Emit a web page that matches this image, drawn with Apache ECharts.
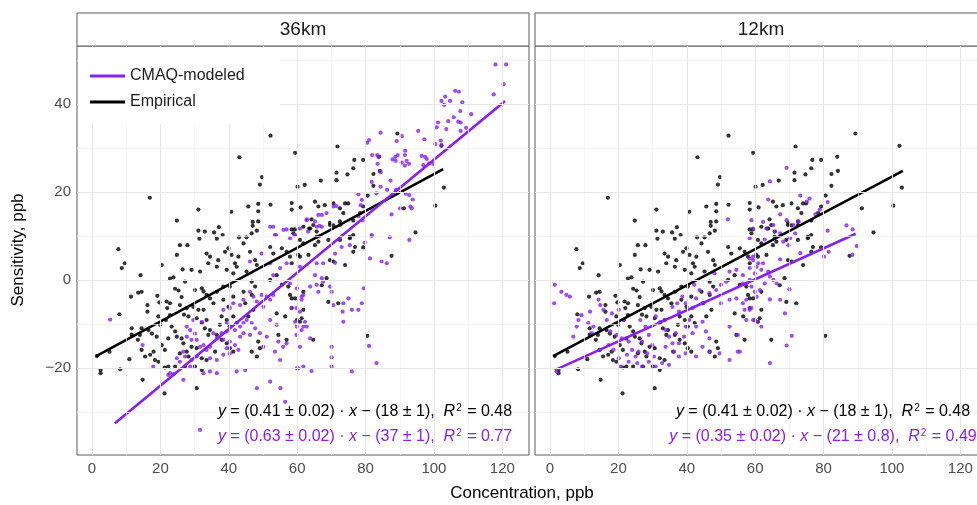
<!DOCTYPE html>
<html>
<head>
<meta charset="utf-8">
<script src="https://cdn.jsdelivr.net/npm/echarts@6/dist/echarts.min.js"></script>
<style>html,body{margin:0;padding:0;background:#fff;}#chart{width:977px;height:505px;}</style>
</head>
<body>
<div id="chart"></div>
<script>
const panels = ['36km', '12km'];
const xTickValues = [0, 20, 40, 60, 80, 100, 120];
const xTickLabels = ['0', '20', '40', '60', '80', '100', '120'];
const yTickValues = [-20, 0, 20, 40];
const yTickLabels = ['\u221220', '0', '20', '40'];
const legendNames = ['CMAQ-modeled', 'Empirical'];

// Empirical (black) points: same observations in both panels
const empirical = [
[52.2,32.8],[43.1,27.9],[59.4,28.9],[49.7,23.4],[49.1,21.7],[60.1,21.2],[62.2,21.6],[16.9,18.7],[24.8,13.5],[31.1,16.0],
[40.7,15.5],[45.7,16.7],[48.6,17.3],[48.6,15.6],[52.2,17.1],[58.4,17.5],[58.4,16.0],[61.0,16.5],[47.0,13.2],[48.6,13.3],
[47.0,12.3],[31.1,11.2],[33.0,11.0],[35.7,10.8],[37.1,12.0],[38.2,10.2],[48.2,11.2],[46.7,10.6],[43.0,9.7],[45.2,9.7],
[59.3,11.5],[63.5,11.7],[31.4,9.4],[36.5,9.4],
[89.3,33.3],[71.8,30.3],[102.2,30.5],[66.9,22.6],[71.5,24.4],[71.5,22.7],[74.7,24.0],[76.4,25.4],[76.7,27.3],[79.3,27.3],
[84.0,28.0],[84.2,24.8],[82.3,24.1],[82.3,21.4],[80.6,19.2],[102.9,21.0],[100.4,16.9],[94.6,10.8],[91.2,16.3],
[65.2,17.8],[66.2,16.7],[68.1,17.0],[70.6,17.4],[72.5,16.3],[73.5,15.2],[74.0,17.4],[74.9,17.4],[79.3,16.7],[78.4,15.2],
[76.4,13.5],[64.2,13.8],[64.7,12.5],[65.7,11.0],[69.6,13.0],[70.6,12.4],[72.5,13.3],[75.4,9.8],[58.4,11.5],
[7.7,7.0],[9.6,3.8],[8.7,2.7],[8.0,-7.8],[5.1,-16.3],[2.5,-20.5],[2.5,-21.2],[1.4,-17.3],[8.2,-20.3],[11.6,-11.0],
[11.6,-12.4],[10.9,-18.0],[11.4,-3.8],[13.5,-2.9],[14.5,-2.7],[14.2,1.1],[16.2,-5.7],[16.2,-7.2],[13.4,-13.6],[14.0,-12.5],
[14.5,-11.0],[16.5,-11.4],[17.5,-12.2],[14.8,-22.7],[15.5,-17.4],[14.5,-15.9],[17.0,-17.0],[18.0,-16.3],[20.4,3.4],[19.1,-3.6],
[19.7,-5.1],[21.8,-4.9],[22.0,-6.4],[22.8,-5.3],[19.4,-8.3],[19.9,-10.2],[21.6,-9.1],[22.8,-8.0],[18.9,-12.9],[20.4,-14.8],
[21.3,-15.9],[22.3,-13.3],[18.4,-18.2],[19.4,-18.6],[21.3,-19.9],[22.3,-19.7],[21.2,-25.8],[22.8,0.3],[23.8,0.6],[24.3,-2.0],
[25.3,-2.4],[24.8,5.7],[25.7,7.9],[27.9,7.9],[26.5,2.4],[27.2,-0.4],[26.2,-3.9],[25.7,-5.7],[27.7,-6.4],[26.9,-7.9],
[28.2,-8.3],[23.3,-10.6],[24.3,-11.7],[24.8,-12.9],[26.2,-13.3],[26.7,-14.4],[25.7,-16.7],[27.7,-16.3],[28.2,-17.4],[24.3,-19.7],
[27.2,-19.7],[30.6,-24.6],[29.1,2.3],[30.1,-2.3],[31.6,1.9],[32.1,-1.9],[32.6,-2.6],[33.5,6.0],[34.5,5.3],[34.0,3.8],
[36.9,4.5],[36.5,3.0],[33.5,-3.4],[34.5,-4.2],[35.5,-5.3],[36.5,-2.7],[29.6,-6.1],[31.1,-6.8],[32.6,-6.8],[30.6,-8.7],
[32.1,-9.8],[33.5,-9.1],[33.0,-11.0],[34.5,-11.4],[34.0,-12.5],[36.5,-12.5],[37.4,-10.2],[29.1,-15.2],[30.6,-15.5],[32.1,-17.8],
[33.5,-18.2],[36.0,-16.3],[30.1,-19.7],[32.1,-20.5],[38.9,6.4],[39.9,7.2],[40.8,5.7],[39.4,2.3],[41.3,1.5],[41.8,3.8],
[42.8,5.3],[42.3,3.0],[38.4,-1.5],[40.3,-1.5],[41.3,-3.8],[38.4,-4.5],[39.9,-6.1],[37.9,-8.3],[39.4,-9.1],[41.3,-8.3],
[42.3,-9.8],[40.3,-10.6],[37.9,-13.6],[39.4,-14.4],[40.3,-15.5],[41.3,-16.3],[44.3,8.3],[46.2,6.4],[47.7,4.5],[48.2,3.4],
[45.2,1.9],[46.7,-0.4],[47.7,-1.5],[44.3,-2.7],[46.7,-3.4],[44.8,-5.3],[47.2,-6.8],[45.7,-8.3],[48.6,-14.0],[49.1,-15.5],
[46.7,-16.3],[48.2,-17.4],[52.1,7.5],[53.0,6.0],[55.5,7.2],[56.9,6.4],[57.9,5.3],[58.4,3.8],[60.8,5.3],[61.8,8.3],
[52.1,0.0],[54.0,1.1],[55.5,-1.1],[57.4,-1.5],[57.9,-3.4],[59.4,-4.2],[61.8,-2.7],[54.0,-7.6],[56.5,-8.3],[59.9,-9.1],
[60.8,-9.5],[61.8,-6.8],[54.5,-12.5],[56.9,-13.6],
[87.6,5.5],[79.3,7.4],[76.4,6.4],[76.9,7.5],[74.0,3.4],[70.6,4.2],[69.6,4.5],[68.6,0.4],[67.2,-1.2],[69.1,-5.0],
[72.0,-5.3],[64.7,-13.6],[61.3,-8.7],[58.4,-6.4],[58.4,-4.2],[80.5,-12.7],[60.3,5.7],[63.3,5.7],[65.2,7.9],[66.2,8.7],
[69.6,12.5],[72.5,12.5],[76.4,10.2],[75.4,9.5],[60.8,9.1],[61.8,12.1],[63.8,11.7],[65.7,9.8],[58.9,10.6],[69.1,9.1],[72.5,9.1]
];

// CMAQ-modeled points, 36km panel
const cmaq36 = [
[53.0,12.1],[53.8,10.2],[56.9,11.5],[59.4,10.2],[62.8,13.8],
[118.0,49.0],[121.1,49.0],[120.4,44.5],[117.5,42.2],[106.2,43.0],[107.3,42.8],[103.3,41.7],[102.2,40.7],[103.0,39.8],[104.7,40.7],
[108.3,40.4],[107.7,38.4],[110.9,37.7],[105.8,37.0],[101.2,35.8],[104.2,36.1],[107.1,36.0],[107.8,35.8],[100.8,34.7],[103.6,34.3],
[107.8,33.9],[109.4,34.6],[102.0,31.7],[100.4,30.9],[102.2,30.7],[95.4,33.9],[97.2,32.0],[84.4,33.5],[81.0,31.8],[80.5,31.2],
[90.6,32.7],[89.1,31.6],[91.6,29.4],[91.5,28.4],[92.0,27.1],[90.6,26.7],[81.9,28.4],[83.4,28.4],[83.7,28.0],[83.5,26.4],
[84.4,24.5],[87.9,27.4],[88.7,28.0],[89.4,28.4],[88.8,27.1],[92.7,26.4],[91.5,26.0],[96.4,28.2],[97.4,28.0],[97.9,27.5],
[96.9,26.1],[98.6,26.5],[99.8,26.4],[81.8,22.3],[83.2,19.7],[84.4,21.2],[86.3,20.5],[87.3,22.6],[88.9,20.5],[91.8,19.6],
[92.8,19.3],[93.8,18.3],[93.1,16.7],[87.6,14.9],[90.1,16.3],[93.5,16.3],[77.9,19.5],[78.9,18.2],[79.1,13.6],[81.8,10.0],
[87.1,9.7],[70.6,16.7],[71.5,16.8],[68.6,15.2],[67.2,14.8],[66.2,14.8],[62.8,13.6],[65.2,13.3],[65.7,12.1],[66.5,12.3],
[67.2,12.1],[63.2,11.0],[77.9,14.5],[78.6,17.0],[59.2,10.2],[66.5,10.0],
[5.3,-9.0],[14.8,-14.8],[17.9,-19.7],[22.8,-21.2],[22.3,-21.6],[23.8,-21.4],[26.7,-22.7],[28.7,-19.7],[29.1,-18.2],[30.6,-17.4],
[24.8,-17.8],[25.7,-18.6],[27.2,-17.4],[26.7,-16.3],[27.7,-10.6],[28.7,-11.4],[30.1,-12.2],[27.7,-12.9],[29.1,-13.6],[30.6,-13.6],
[31.6,-15.2],[32.6,-14.8],[33.5,-15.9],[34.5,-15.2],[35.5,-12.1],[36.5,-13.3],[37.9,-12.1],[38.4,-13.6],[39.4,-11.7],[34.5,-17.8],
[36.5,-18.2],[38.4,-17.0],[40.3,-16.7],[32.6,-21.2],[34.5,-20.8],[36.5,-21.2],[42.3,-20.8],[44.8,-20.5],[48.2,-24.6],[52.1,-23.1],
[55.1,-24.6],[56.5,-27.7],[29.6,-9.1],[32.1,-9.5],[38.4,-6.8],[40.3,-6.4],[41.3,-5.3],[43.3,-5.7],[44.3,-4.5],[39.4,-9.8],
[40.3,-10.6],[41.8,-11.4],[43.3,-10.6],[44.3,-9.8],[44.3,-12.1],[43.3,-12.9],[40.3,-14.0],[41.8,-14.8],[42.8,-15.9],[39.4,-15.5],
[46.2,-2.7],[47.2,-3.8],[48.2,-4.9],[49.6,-3.4],[51.1,-3.8],[50.1,-6.1],[52.1,-4.5],[53.0,-3.4],[45.2,-9.1],[46.7,-9.8],
[47.7,-11.0],[46.2,-12.5],[49.1,-12.1],[51.1,-12.9],[50.1,-15.2],[52.1,-9.1],[54.0,-10.2],[54.5,-14.0],[55.9,-15.2],[56.9,-14.4],
[53.5,-16.3],[55.0,-18.2],[59.9,-20.1],[61.8,-19.7],[46.2,4.2],[49.6,6.0],[52.1,3.8],[55.0,2.7],[56.9,3.8],[60.8,3.0],
[53.0,1.1],[52.1,12.1],[53.5,10.2],[56.0,11.4],[57.9,9.5],[60.8,11.7],[57.9,-0.8],[59.9,-1.9],[61.3,-3.8],[58.4,-6.4],
[60.8,-7.2],[59.9,-10.6],[61.8,-10.6],[31.6,-34.1],
[81.8,10.2],[92.8,9.1],[79.8,8.5],[75.4,7.9],[73.0,7.5],[81.3,4.9],[84.7,4.2],[86.2,3.8],[71.1,6.0],[71.1,3.9],
[67.6,3.8],[65.7,3.8],[65.2,1.1],[67.2,0.4],[67.6,-0.4],[69.6,-1.5],[65.7,-1.1],[66.2,-2.7],[63.8,-1.5],[61.8,-3.4],
[61.3,-4.5],[59.8,-6.4],[59.4,-9.5],[70.1,-2.7],[70.6,-5.7],[73.5,-5.3],[75.0,-4.2],[76.0,-6.8],[77.9,-6.8],[78.9,-5.3],
[79.5,-1.9],[73.3,-7.2],[73.5,-9.5],[62.3,-9.5],[62.8,-10.6],[61.3,-11.4],[59.8,-12.5],[63.8,-13.3],[60.8,-15.2],[60.3,-20.1],
[64.2,-20.7],[70.1,-15.2],[70.1,-17.6],[70.1,-19.7],[76.0,-20.8],[81.0,-15.0],[83.2,-18.9]
];

// CMAQ-modeled points, 12km panel
const cmaq12 = [
[52.0,13.8],[58.9,13.6],
[69.2,25.5],[64.3,22.4],[73.2,19.2],[75.9,18.5],[75.1,17.8],[81.2,17.7],[78.9,16.0],[77.6,14.9],[67.3,14.9],[63.8,18.3],
[62.3,13.2],[63.3,11.7],[65.3,12.5],[65.8,11.0],[69.2,13.6],[71.2,12.5],[72.7,13.3],[71.7,10.6],[81.2,11.2],[86.7,12.4],
[88.5,11.5],[62.8,9.2],
[89.7,7.7],[73.2,6.1],[80.1,5.3],[81.5,6.4],[88.4,5.7],[69.7,7.9],[70.2,9.5],[68.2,8.7],[67.3,10.6],[59.4,5.3],
[60.9,3.8],[62.3,3.8],[61.8,2.3],[58.4,2.7],[59.9,1.5],[63.8,1.9],[64.3,0.8],[67.3,4.7],[56.4,1.1],[57.4,-0.8],
[58.9,-1.5],[59.9,-2.7],[61.4,-2.3],[60.4,-3.8],[57.4,-4.5],[56.9,-6.8],[58.9,-6.4],[59.4,-9.1],[60.4,-9.5],[61.8,-10.6],
[64.3,-4.4],[67.3,-4.5],[68.7,-7.6],[70.0,-2.1],[66.3,-0.8],[65.3,0.0],[62.8,-0.8],[70.7,-12.7],[69.2,-14.9],[64.3,-18.9],[55.5,-16.3],
[1.4,-1.1],[1.2,-5.3],[3.3,-2.7],[4.8,-3.4],[5.8,-3.8],[1.9,-20.8],[6.8,-12.9],[8.3,-9.1],[9.2,-8.0],[7.8,-10.6],
[11.7,-7.2],[12.2,-12.1],[14.2,-4.5],[14.7,-5.7],[11.2,-9.8],[12.7,-10.6],[16.6,-9.1],[17.6,-11.7],[19.6,-12.5],[17.1,-14.8],
[18.6,-15.9],[15.6,-6.8],[18.1,-7.6],[20.1,-6.8],[21.5,-9.1],[21.0,-13.3],[23.0,-14.0],[24.0,-15.9],[22.5,-17.0],[25.0,-17.4],
[25.5,-18.9],[20.6,-19.7],[23.0,-18.6],[26.9,-19.7],[20.1,-17.8],[26.4,-9.1],[27.9,-10.6],[28.9,-12.5],[26.9,-14.0],[29.9,-14.8],
[25.9,-16.3],[28.4,-16.7],[30.4,-17.4],[28.9,-18.6],[30.9,-19.7],[32.8,-18.9],[30.9,-8.3],[32.3,-9.5],[33.8,-11.4],[34.8,-12.9],
[36.8,-12.1],[35.8,-14.4],[33.8,-15.2],[36.3,-16.3],[37.7,-14.4],[39.2,-12.9],[39.7,-10.6],[34.8,-19.3],[37.7,-17.4],[39.7,-16.7],
[42.7,-17.4],[44.6,-15.2],[35.8,-6.1],[37.7,-7.2],[39.7,-5.3],[41.7,-6.4],[42.7,-4.2],[44.6,-5.3],[40.7,-9.1],[42.7,-10.6],
[44.6,-9.5],[41.7,-12.1],[45.6,-11.7],[46.6,-13.3],[46.6,-16.3],[49.6,-16.7],[52.5,-18.2],[54.9,-16.3],[46.6,-3.0],[48.6,-2.3],
[50.0,-1.1],[51.5,-0.4],[48.1,1.5],[52.5,1.9],[54.5,2.3],[50.0,-5.3],[52.5,-4.5],[54.5,-4.2],[56.4,-5.3],[58.4,-6.8],
[52.5,-10.6],[54.9,-12.5],[57.4,-9.1],[56.4,-0.8],[58.4,0.0],[59.4,4.5],[60.4,3.0],[58.4,4.9],[42.2,-1.1],[43.7,-2.3],
[38.7,-3.8],[37.2,-5.3],[58.4,9.5],[59.4,11.7]
];

// Fitted line endpoints
const fitEmpirical36 = [[1.2, -17.3], [102.7, 25.2]];
const fitCmaq36 = [[6.7, -32.6], [120.8, 40.7]];
const fitEmpirical12 = [[0.9, -17.3], [103.2, 24.8]];
const fitCmaq12 = [[1.4, -20.5], [89.4, 10.5]];

// Equation parts: slope, intercept, R^2
const eqEmpirical = ['0.41 \u00b1 0.02', '18 \u00b1 1', '0.48'];
const eqCmaq36 = ['0.63 \u00b1 0.02', '37 \u00b1 1', '0.77'];
const eqCmaq12 = ['0.35 \u00b1 0.02', '21 \u00b1 0.8', '0.49'];

const FONT = "'Liberation Sans', Arial, Helvetica, sans-serif";
const PURPLE = '#8a1ef2';
const BLACK = '#000000';
const INK = '#1a1a1a';
const X_MIN = -4.4, X_MAX = 127.8, Y_MIN = -39.8, Y_MAX = 53.2;
const EQ_SIZE = 16;

const chart = echarts.init(document.getElementById('chart'));

function eqText(p) {
  return '{i|y} = (' + p[0] + ') \u00b7 {i|x} \u2212 (' + p[1] + '),  {i|R}{sup|2} = ' + p[2];
}
const rich = {
  i: { fontStyle: 'italic', fontSize: EQ_SIZE, fontFamily: FONT },
  sup: { fontSize: 10, fontFamily: FONT, verticalAlign: 'top', padding: [0, 1, 8, 1] }
};

function gridLineData() {
  const d = [];
  const major = { color: '#e6e6e6', width: 1.1, type: 'solid' };
  const minor = { color: '#f2f2f2', width: 0.7, type: 'solid' };
  const xs = xTickValues[1] - xTickValues[0];
  const ys = yTickValues[1] - yTickValues[0];
  for (let v = xTickValues[0] - xs / 2; v <= X_MAX; v += xs / 2) {
    if (v < X_MIN) continue;
    const isMajor = xTickValues.indexOf(v) >= 0;
    d.push({ xAxis: v, lineStyle: isMajor ? major : minor });
  }
  for (let v = yTickValues[0] - ys; v <= Y_MAX; v += ys / 2) {
    if (v < Y_MIN) continue;
    const isMajor = yTickValues.indexOf(v) >= 0;
    d.push({ yAxis: v, lineStyle: isMajor ? major : minor });
  }
  return d;
}

const grids = [
  { left: 77, top: 46, width: 452, height: 409 },
  { left: 535, top: 46, width: 452, height: 409 }
].map(g => Object.assign(g, { show: true, borderColor: '#5a5a5a', borderWidth: 1, backgroundColor: '#ffffff',
  containLabel: false, outerBoundsMode: 'none' }));

const xAxes = [0, 1].map(i => ({
  type: 'value', gridIndex: i, min: X_MIN, max: X_MAX,
  axisLine: { show: false },
  splitLine: { show: false },
  axisTick: { show: true, customValues: xTickValues, length: 4, lineStyle: { color: '#333333', width: 1 } },
  axisLabel: {
    customValues: xTickValues, margin: 6, color: '#4d4d4d', fontSize: 15, fontFamily: FONT,
    formatter: v => xTickLabels[xTickValues.indexOf(v)]
  }
}));

const yAxes = [0, 1].map(i => ({
  type: 'value', gridIndex: i, min: Y_MIN, max: Y_MAX,
  axisLine: { show: false },
  splitLine: { show: false },
  axisTick: { show: i === 0, customValues: yTickValues, length: 4, lineStyle: { color: '#333333', width: 1 } },
  axisLabel: {
    show: i === 0, customValues: yTickValues, margin: 6, color: '#4d4d4d', fontSize: 15, fontFamily: FONT,
    formatter: v => yTickLabels[yTickValues.indexOf(v)]
  }
}));

const series = [];
[0, 1].forEach(i => {
  series.push({
    type: 'line', xAxisIndex: i, yAxisIndex: i, data: [], silent: true, z: 1,
    markLine: { silent: true, symbol: ['none', 'none'], label: { show: false }, animation: false,
      emphasis: { disabled: true }, data: gridLineData() }
  });
});
const pointSets = [[empirical, cmaq36], [empirical, cmaq12]];
const fitSets = [[fitEmpirical36, fitCmaq36], [fitEmpirical12, fitCmaq12]];
[0, 1].forEach(i => {
  series.push({ name: 'Empirical points', type: 'scatter', xAxisIndex: i, yAxisIndex: i, data: pointSets[i][0],
    symbolSize: 4.2, itemStyle: { color: BLACK }, z: 3, silent: true });
  series.push({ name: 'CMAQ points', type: 'scatter', xAxisIndex: i, yAxisIndex: i, data: pointSets[i][1],
    symbolSize: 4.2, itemStyle: { color: PURPLE }, z: 3, silent: true });
  series.push({ name: legendNames[1], type: 'line', xAxisIndex: i, yAxisIndex: i, data: fitSets[i][0],
    showSymbol: false, symbol: 'none', color: BLACK, lineStyle: { color: BLACK, width: 2.6 }, z: 4, silent: true });
  series.push({ name: legendNames[0], type: 'line', xAxisIndex: i, yAxisIndex: i, data: fitSets[i][1],
    showSymbol: false, symbol: 'none', color: PURPLE, lineStyle: { color: PURPLE, width: 2.6 }, z: 4, silent: true });
});

const graphics = [];
grids.forEach((g, i) => {
  graphics.push({ type: 'rect', shape: { x: g.left, y: 13, width: g.width, height: 33 },
    style: { fill: '#ffffff', stroke: '#5a5a5a', lineWidth: 1 }, z: 5 });
  graphics.push({ type: 'text', x: g.left + g.width / 2, y: 30,
    style: { text: panels[i], font: '19px ' + FONT, fill: INK, align: 'center', verticalAlign: 'middle' }, z: 6 });
});
const eqFont = EQ_SIZE + 'px ' + FONT;
const eqSets = [[eqEmpirical, eqCmaq36], [eqEmpirical, eqCmaq12]];
grids.forEach((g, i) => {
  const cx = g.left + 288;
  graphics.push({ type: 'text', x: cx, y: 412, z: 6,
    style: { text: eqText(eqSets[i][0]), rich: rich, font: eqFont, fill: BLACK, align: 'center', verticalAlign: 'middle' } });
  graphics.push({ type: 'text', x: cx, y: 437, z: 6,
    style: { text: eqText(eqSets[i][1]), rich: rich, font: eqFont, fill: PURPLE, align: 'center', verticalAlign: 'middle' } });
});
graphics.push({ type: 'text', x: 522, y: 493, z: 6,
  style: { text: 'Concentration, ppb', font: '17px ' + FONT, fill: BLACK, align: 'center', verticalAlign: 'middle' } });
graphics.push({ type: 'text', x: 18, y: 250, rotation: Math.PI / 2, z: 6,
  style: { text: 'Sensitivity, ppb', font: '17px ' + FONT, fill: BLACK, align: 'center', verticalAlign: 'middle' } });

chart.setOption({
  animation: false,
  backgroundColor: '#ffffff',
  grid: grids,
  xAxis: xAxes,
  yAxis: yAxes,
  legend: {
    data: legendNames, left: 78, top: 47, orient: 'vertical', icon: 'rect',
    itemWidth: 35, itemHeight: 3, itemGap: 10, selectedMode: false,
    backgroundColor: '#ffffff', padding: [21, 35, 14, 12], z: 10,
    textStyle: { fontSize: 16, color: INK, fontFamily: FONT }
  },
  graphic: graphics,
  series: series
});
</script>
</body>
</html>
